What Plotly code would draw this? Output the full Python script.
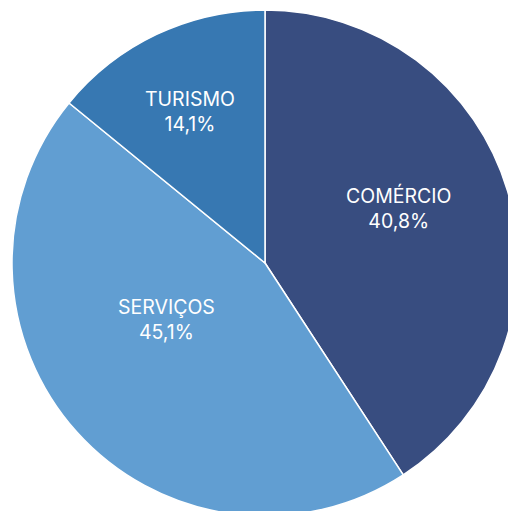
import math
import plotly.graph_objects as go

labels = ["COMÉRCIO", "SERVIÇOS", "TURISMO"]
values = [40.8, 45.1, 14.1]
colors = ["#384D80", "#619ED2", "#3778B2"]

# label placement (style): radial fraction and angular nudge in degrees
label_frac = [0.57, 0.45, 0.67]
label_nudge = [-6.0, 12.0, -1.0]

fig = go.Figure(go.Pie(
    labels=labels,
    values=values,
    sort=False,
    direction="clockwise",
    rotation=0,
    marker=dict(colors=colors, line=dict(color="white", width=1.5)),
    textinfo="none",
    hoverinfo="none",
    showlegend=False,
    domain=dict(x=[0, 1], y=[0, 1]),
))

total = sum(values)
cum = 0.0
for lab, v, fr, nd in zip(labels, values, label_frac, label_nudge):
    mid = (cum + v / 2) / total * 360 + nd
    cum += v
    a = math.radians(mid)
    x = 0.5 + 0.5 * fr * math.sin(a)
    y = 0.5 + 0.5 * fr * math.cos(a)
    pct = f"{v / total * 100:.1f}".replace(".", ",") + "%"
    fig.add_annotation(
        x=x, y=y, xref="paper", yref="paper",
        text=f"{lab}<br>{pct}", showarrow=False,
        xanchor="center", yanchor="middle",
        font=dict(family="Inter", size=19.5, color="white"),
    )

fig.update_layout(
    width=516, height=511,
    margin=dict(l=4, r=6, t=2, b=3),
    separators=",.",
    paper_bgcolor="white",
    plot_bgcolor="white",
)
fig.write_html("out.html")
